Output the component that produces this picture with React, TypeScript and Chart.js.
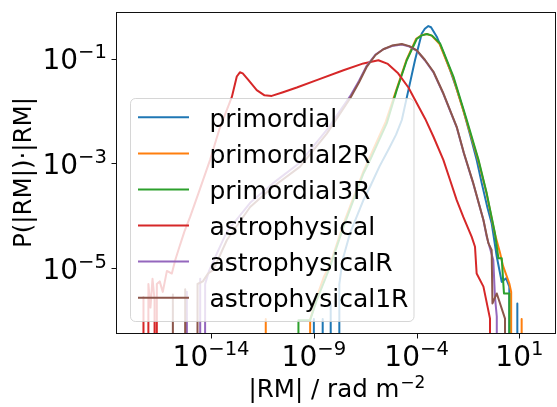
import React, { useEffect, useRef } from "react";
import { Chart, registerables } from "chart.js";

Chart.register(...registerables);

// log10 value used for an empty histogram bin (falls far below the axis, like matplotlib's clipped zeros)
const Z = -100;

const seriesLabels = [
  "primordial",
  "primordial2R",
  "primordial3R",
  "astrophysical",
  "astrophysicalR",
  "astrophysical1R",
];
const seriesColors = ["#1f77b4", "#ff7f0e", "#2ca02c", "#d62728", "#9467bd", "#8c564b"];

// values stored as log10(|RM|) and log10(P(|RM|)·|RM|)
const primordialLogRM = [-9.1, -9.0, -8.92, -8.64, -8.57, -8.5, -8.26, -8.18, -8.1, -7.84, -7.76, -7.66, -7.56, -7.24, -6.9, -6.59, -6.26, -5.8, -5.35, -5.0, -4.72, -4.4, -4.08, -3.75, -3.6, -3.43, -3.3, -3.02, -2.7, -2.37, -2.05, -1.73, -1.4, -1.08, -0.83, -0.55, -0.35, -0.1, 0.14, 0.35, 0.51, 0.56, 0.85, 0.9, 0.95];
const primordialLogP = [Z, -5.97, Z, Z, -5.97, Z, Z, -5.67, Z, Z, -5.3, -5.0, -4.78, -4.33, -4.0, -3.7, -3.44, -3.05, -2.72, -2.45, -2.17, -1.6, -1.03, -0.52, -0.43, -0.377, -0.4, -0.58, -0.88, -1.22, -1.58, -1.98, -2.45, -2.93, -3.38, -3.85, -4.14, -4.78, -5.26, -5.19, -5.35, Z, Z, -5.67, Z];

const primordial2RLogRM = [-11.4, -11.34, -11.28, -9.24, -9.18, -9.0, -8.86, -8.5, -8.21, -7.56, -6.59, -6.3, -5.5, -4.99, -4.5, -4.02, -3.77, -3.52, -3.27, -2.88, -2.23, -1.58, -1.0, -0.6, -0.2, 0.06, 0.2, 0.51, 0.6, 0.66, 1.05, 1.11, 1.17];
const primordial2RLogP = [Z, -5.97, Z, Z, -5.97, -5.75, -5.55, -5.15, -4.93, -4.15, -3.15, -2.9, -2.2, -1.6, -1.03, -0.62, -0.555, -0.53, -0.56, -0.72, -1.35, -2.18, -2.94, -3.57, -4.33, -4.71, -4.95, -5.29, -5.45, Z, Z, -5.97, Z];

const primordial3RLogRM = [-9.81, -9.75, -9.18, -8.86, -8.21, -7.56, -6.59, -6.26, -5.45, -4.97, -4.48, -3.99, -3.75, -3.5, -3.25, -2.86, -2.21, -1.56, -0.99, -0.59, -0.19, -0.02, 0.14, 0.25, 0.51, 0.6];
const primordial3RLogP = [Z, -5.99, -5.99, -5.61, -4.97, -4.21, -3.19, -2.93, -2.23, -1.6, -1.03, -0.62, -0.555, -0.53, -0.56, -0.71, -1.34, -2.17, -2.93, -3.57, -4.33, -4.81, -4.81, -5.48, -5.48, Z];

const astrophysicalLogRM = [-17.35, -17.29, -17.17, -17.05, -16.95, -16.85, -16.75, -16.7, -16.64, -16.5, -16.35, -16.15, -15.91, -15.75, -15.59, -15.3, -15.02, -14.6, -14.05, -13.6, -12.99, -12.75, -12.6, -12.46, -12.2, -11.78, -11.4, -11.05, -10.5, -9.83, -8.86, -7.56, -6.59, -5.86, -5.4, -4.9, -4.4, -3.99, -3.58, -3.18, -2.7, -2.37, -2.05, -1.73, -1.32, -1.16, -1.08, -0.75, -0.43, -0.37];
const astrophysicalLogP = [Z, -5.55, Z, -5.3, -5.75, -5.2, -5.6, Z, -5.3, -5.25, -5.45, -5.05, -5.1, -4.85, -4.65, -4.3, -4.02, -3.55, -2.93, -2.35, -1.73, -1.34, -1.26, -1.28, -1.4, -1.6, -1.7, -1.71, -1.64, -1.55, -1.41, -1.22, -1.09, -1.03, -1.1, -1.28, -1.55, -1.85, -2.15, -2.49, -2.93, -3.32, -3.7, -4.02, -4.4, -4.59, -5.1, -5.35, -5.96, Z];

const astrophysicalRLogRM = [-15.25, -15.18, -15.08, -14.6, -14.53, -14.43, -14.29, -14.1, -13.7, -13.23, -12.1, -11.0, -9.67, -8.37, -7.24, -6.8, -6.42, -6.0, -5.62, -5.2, -4.72, -4.35, -3.99, -3.6, -3.18, -2.7, -2.05, -1.7, -1.24, -0.75, -0.59, -0.27, -0.19, -0.1, -0.05];
const astrophysicalRLogP = [Z, -5.45, Z, Z, -5.2, Z, -5.3, -5.05, -4.7, -4.3, -3.75, -3.38, -2.98, -2.36, -1.72, -1.42, -1.13, -0.92, -0.82, -0.76, -0.73, -0.77, -0.85, -1.03, -1.26, -1.67, -2.31, -2.81, -3.39, -4.08, -4.4, -4.84, -5.54, -5.92, Z];

const astrophysical1RLogRM = [-15.95, -15.86, -15.76, -15.36, -15.26, -15.16, -14.76, -14.66, -14.4, -14.15, -13.89, -13.23, -12.1, -11.0, -9.67, -8.37, -7.24, -6.8, -6.42, -6.0, -5.62, -5.2, -4.72, -4.35, -3.99, -3.6, -3.18, -2.7, -2.05, -1.7, -1.24, -0.75, -0.51, -0.35, -0.31, -0.1, 0.3, 0.36];
const astrophysical1RLogP = [Z, -5.5, Z, Z, -5.4, Z, Z, -5.3, -5.25, -5.1, -5.03, -4.46, -3.83, -3.45, -3.06, -2.43, -1.76, -1.45, -1.15, -0.93, -0.82, -0.75, -0.72, -0.76, -0.84, -1.02, -1.25, -1.66, -2.3, -2.8, -3.38, -4.08, -4.52, -4.65, -5.67, -5.48, -5.96, Z];

const seriesLogRM = [primordialLogRM, primordial2RLogRM, primordial3RLogRM, astrophysicalLogRM, astrophysicalRLogRM, astrophysical1RLogRM];
const seriesLogP = [primordialLogP, primordial2RLogP, primordial3RLogP, astrophysicalLogP, astrophysicalRLogP, astrophysical1RLogP];

const xTickExponents = [-14, -9, -4, 1];
const yTickExponents = [-1, -3, -5];
const xRangeLog = [-18.578, 2.781];
const yRangeLog = [-6.235, -0.109];

const xAxisTitle = "|RM| / rad m";
const xAxisTitleSup = "\u22122";
const yAxisTitle = "P(|RM|)\u00b7|RM|";

const FONT = '"DejaVu Sans", "Liberation Sans", sans-serif';

function drawPower(ctx: CanvasRenderingContext2D, x: number, baseline: number, exp: number, align: "center" | "right") {
  const main = "10";
  const sup = exp < 0 ? "\u2212" + Math.abs(exp) : String(exp);
  ctx.font = `28px ${FONT}`;
  const wm = ctx.measureText(main).width;
  ctx.font = `19.6px ${FONT}`;
  const ws = ctx.measureText(sup).width;
  const total = wm + ws;
  const start = align === "center" ? x - total / 2 : x - total;
  ctx.textAlign = "left";
  ctx.textBaseline = "alphabetic";
  ctx.font = `28px ${FONT}`;
  ctx.fillText(main, start, baseline);
  ctx.font = `19.6px ${FONT}`;
  ctx.fillText(sup, start + wm, baseline - 11);
}

function roundRectPath(ctx: CanvasRenderingContext2D, x: number, y: number, w: number, h: number, r: number) {
  ctx.beginPath();
  ctx.moveTo(x + r, y);
  ctx.lineTo(x + w - r, y);
  ctx.arcTo(x + w, y, x + w, y + r, r);
  ctx.lineTo(x + w, y + h - r);
  ctx.arcTo(x + w, y + h, x + w - r, y + h, r);
  ctx.lineTo(x + r, y + h);
  ctx.arcTo(x, y + h, x, y + h - r, r);
  ctx.lineTo(x, y + r);
  ctx.arcTo(x, y, x + r, y, r);
  ctx.closePath();
}

const mplDecorations = {
  id: "mplDecorations",
  afterDatasetsDraw(chart: any) {
    const ctx: CanvasRenderingContext2D = chart.ctx;
    const { left, right, top, bottom } = chart.chartArea;
    const xs = chart.scales.x;
    const ys = chart.scales.y;
    ctx.save();

    // spines
    ctx.strokeStyle = "#111";
    ctx.lineWidth = 1;
    ctx.strokeRect(left - 0.5, top + 0.5, right - left, bottom - top);

    // tick marks
    ctx.beginPath();
    xTickExponents.forEach((e) => {
      const px = Math.round(xs.getPixelForValue(Math.pow(10, e))) + 0.5;
      ctx.moveTo(px, bottom + 1);
      ctx.lineTo(px, bottom + 5.5);
    });
    yTickExponents.forEach((e) => {
      const py = Math.round(ys.getPixelForValue(Math.pow(10, e))) + 0.5;
      ctx.moveTo(left - 1, py);
      ctx.lineTo(left - 5.5, py);
    });
    ctx.stroke();

    // tick labels
    ctx.fillStyle = "#000";
    xTickExponents.forEach((e) => {
      const px = xs.getPixelForValue(Math.pow(10, e));
      drawPower(ctx, px, 366, e, "center");
    });
    yTickExponents.forEach((e) => {
      const py = ys.getPixelForValue(Math.pow(10, e));
      drawPower(ctx, 107, py + 10.3, e, "right");
    });

    // x axis title
    ctx.font = `24.5px ${FONT}`;
    const wt = ctx.measureText(xAxisTitle).width;
    ctx.font = `17px ${FONT}`;
    const wsup = ctx.measureText(xAxisTitleSup).width;
    const cx = (left + right) / 2;
    const sx = cx - (wt + wsup) / 2;
    ctx.textAlign = "left";
    ctx.textBaseline = "alphabetic";
    ctx.font = `24.5px ${FONT}`;
    ctx.fillText(xAxisTitle, sx, 397);
    ctx.font = `17px ${FONT}`;
    ctx.fillText(xAxisTitleSup, sx + wt + 1, 397 - 9.5);

    // y axis title
    ctx.save();
    ctx.translate(30.5, (top + bottom) / 2);
    ctx.rotate(-Math.PI / 2);
    ctx.font = `24.5px ${FONT}`;
    ctx.textAlign = "center";
    ctx.fillText(yAxisTitle, 0, 0);
    ctx.restore();

    // legend
    const lx = 130.5, ly = 98.5, lw = 283.5, lh = 223;
    roundRectPath(ctx, lx, ly, lw, lh, 5);
    ctx.fillStyle = "rgba(255,255,255,0.8)";
    ctx.fill();
    ctx.strokeStyle = "rgba(204,204,204,0.8)";
    ctx.lineWidth = 1;
    ctx.stroke();

    const rowY0 = 117.3;
    const rowDy = 36.08;
    seriesLabels.forEach((label, i) => {
      const y = rowY0 + i * rowDy;
      ctx.beginPath();
      ctx.strokeStyle = seriesColors[i];
      ctx.lineWidth = 2;
      ctx.moveTo(138, y);
      ctx.lineTo(189, y);
      ctx.stroke();
      ctx.fillStyle = "#000";
      ctx.font = `25px ${FONT}`;
      ctx.textAlign = "left";
      ctx.textBaseline = "alphabetic";
      ctx.fillText(label, 209.5, y + 9.2);
    });

    ctx.restore();
  },
};

export default function App() {
  const canvasRef = useRef<HTMLCanvasElement | null>(null);

  useEffect(() => {
    const canvas = canvasRef.current;
    if (!canvas) return;
    const datasets = seriesLabels.map((label, i) => ({
      label,
      data: seriesLogRM[i].map((r, j) => ({ x: Math.pow(10, r), y: Math.pow(10, seriesLogP[i][j]) })),
      borderColor: seriesColors[i],
      backgroundColor: seriesColors[i],
      borderWidth: 2,
      pointRadius: 0,
      pointHoverRadius: 0,
      fill: false,
      tension: 0,
      clip: 0,
      borderJoinStyle: "round" as const,
      order: -i,
    }));

    const chart = new Chart(canvas, {
      type: "line",
      data: { datasets },
      options: {
        animation: false,
        responsive: false,
        maintainAspectRatio: false,
        devicePixelRatio: 1,
        events: [],
        layout: { padding: { left: 117, top: 12, right: 1, bottom: 74 } },
        scales: {
          x: {
            type: "logarithmic",
            display: false,
            min: Math.pow(10, xRangeLog[0]),
            max: Math.pow(10, xRangeLog[1]),
          },
          y: {
            type: "logarithmic",
            display: false,
            min: Math.pow(10, yRangeLog[0]),
            max: Math.pow(10, yRangeLog[1]),
          },
        },
        plugins: {
          legend: { display: false },
          tooltip: { enabled: false },
        },
      },
      plugins: [mplDecorations],
    });

    return () => {
      chart.destroy();
    };
  }, []);

  return (
    <div style={{ position: "absolute", left: 0, top: 0, width: 557, height: 407, background: "#fff" }}>
      <canvas ref={canvasRef} width={557} height={407} style={{ display: "block" }} />
    </div>
  );
}
